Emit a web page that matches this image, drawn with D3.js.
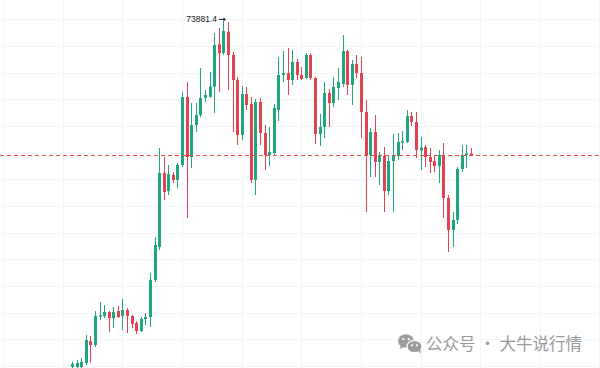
<!DOCTYPE html>
<html>
<head>
<meta charset="utf-8">
<script src="https://cdn.jsdelivr.net/npm/d3@7"></script>
<style>
  body { margin:0; background:#fff; overflow:hidden; }
</style>
</head>
<body>
<script>
// daily candles (USD)
var open = [47925,47925,47925,48225,49875,49575,51712,51750,52050,51600,52125,51750,52200,51750,51225,50625,51525,51675,54450,56925,
            62475,61125,62325,61950,63075,68175,63675,66075,66825,68122,68198,68948,72128,71475,73072,71325,69450,65325,68400,67650,
            61950,67800,65475,63825,63975,67200,69825,69975,69450,70800,69825,69600,71325,69600,65400,65925,68475,67725,68850,69150,
            71625,69075,70650,69975,67050,63825,65550,63300,63750,61125,63375,63750,64762,64800,66750,66300,64162,64425,63675,63375,
            63000,63825,60600,58200,58950,62775,63825,63938];
var close = [48150,48225,48300,49950,49575,51750,51825,52050,51600,52050,51675,52200,51750,51150,50625,51525,51675,54450,57075,62475,
             61050,62400,61950,63075,68175,63675,66075,66825,68100,68325,68962,72075,71452,73125,71325,69450,65325,68400,67575,61950,
             67800,65475,63825,64050,67350,69825,69975,69450,70800,69825,69525,71325,69600,65400,65925,68475,67725,68925,69300,71625,
             69075,70650,69975,67050,63825,65550,63300,63750,61125,63375,63750,64800,64875,66750,66300,64200,64388,63675,63300,63000,
             63825,60600,58200,58950,62775,63825,63938,63825];
var high = [48300,48450,48600,50325,50250,52125,52800,52575,52125,52425,52500,53025,52350,51825,51375,51675,51975,54975,57675,64350,
            63675,63075,62550,63225,68550,69300,67725,67725,70350,68700,70050,72975,73350,73881.4,73800,71550,69675,69000,68925,68175,
            68025,68100,66075,65925,67650,71175,71625,71850,71700,71025,70425,71475,71475,69675,66900,69300,68775,69675,70350,72825,
            71700,70950,71325,71175,67950,65850,66825,64050,64425,63825,65400,65475,65625,67200,67050,67050,65175,64575,64350,63825,
            64200,64725,60825,59550,62925,64575,64575,64350];
var low = [47775,47775,47775,48075,48225,49425,51450,51600,50550,50850,51600,50700,50475,50850,50400,50550,51075,50925,54300,56700,
           60450,60825,61725,61350,62925,59100,62850,65550,66675,67800,68100,66975,68550,71325,68700,65550,64575,64950,67200,61725,
           60825,64575,62700,63000,63825,66375,69300,68325,69075,69450,69450,69525,69450,64650,64500,65100,65925,67425,67950,68925,
           68325,67575,69600,65100,59550,62175,62175,61575,59550,60825,59550,63450,64200,64725,66000,63600,62700,62925,62475,62550,
           61725,59100,56550,56925,58650,62550,62850,63750];
var gridPrices = d3.range(48000, 76000, 2000);
var gridCandles = d3.range(-15, 120, 13);
var watermark = "公众号 · 大牛说行情";

var width = 600, height = 368;
var up = "#1fa67e", down = "#e2444f";

var x = d3.scaleLinear().domain([0, close.length - 1]).range([72, 471]);
var y = d3.scaleLinear().domain([47850, 75450]).range([height, 0]);

var svg = d3.select("body").append("svg")
  .attr("width", width)
  .attr("height", height);

// faint grid
svg.append("g").selectAll("line").data(gridPrices).enter().append("line")
  .attr("x1", 0).attr("x2", width)
  .attr("y1", function(d) { return Math.round(y(d)) + 0.5; })
  .attr("y2", function(d) { return Math.round(y(d)) + 0.5; })
  .attr("stroke", "#f2f4f8");
svg.append("g").selectAll("line").data(gridCandles).enter().append("line")
  .attr("y1", 0).attr("y2", height)
  .attr("x1", function(d) { return Math.round(x(d)) + 0.5; })
  .attr("x2", function(d) { return Math.round(x(d)) + 0.5; })
  .attr("stroke", "#f2f4f8");

var candles = svg.append("g").selectAll("g")
  .data(d3.range(close.length))
  .enter().append("g")
  .attr("fill", function(i) { return close[i] >= open[i] ? up : down; });

candles.append("rect")
  .attr("x", function(i) { return Math.round(x(i)); })
  .attr("width", 1)
  .attr("y", function(i) { return y(high[i]); })
  .attr("height", function(i) { return y(low[i]) - y(high[i]); });

candles.append("rect")
  .attr("x", function(i) { return Math.round(x(i)) - 1; })
  .attr("width", 3)
  .attr("y", function(i) { return y(Math.max(open[i], close[i])); })
  .attr("height", function(i) { return Math.max(1, Math.abs(y(open[i]) - y(close[i]))); });

// last price line
var last = close[close.length - 1];
svg.append("line")
  .attr("x1", 0).attr("x2", width)
  .attr("y1", Math.round(y(last)) + 0.5).attr("y2", Math.round(y(last)) + 0.5)
  .attr("stroke", "#d9534f")
  .attr("stroke-dasharray", "4,3");

// highest high marker
var hi = d3.maxIndex(high);
var hx = Math.round(x(hi)), hy = y(high[hi]);
svg.append("text")
  .attr("x", hx - 6).attr("y", hy + 1)
  .attr("text-anchor", "end")
  .attr("font-family", "Liberation Sans, Arial, sans-serif")
  .attr("font-size", 8.5)
  .attr("fill", "#131722")
  .text(d3.format(".1f")(high[hi]));
svg.append("line")
  .attr("x1", hx - 4).attr("x2", hx + 2)
  .attr("y1", hy - 1.5).attr("y2", hy - 1.5)
  .attr("stroke", "#131722");
svg.append("path")
  .attr("d", "M" + (hx + 3) + "," + (hy - 1.5) + "l-2.5,-2v4z")
  .attr("fill", "#131722");

// watermark
var wm = svg.append("g").attr("transform", "translate(398,334)");
wm.append("ellipse").attr("cx", 8).attr("cy", 7).attr("rx", 8).attr("ry", 6.8).attr("fill", "#9d9d9d");
wm.append("path").attr("d", "M3,11 L1.5,15 L7,12.5 Z").attr("fill", "#9d9d9d");
wm.append("ellipse").attr("cx", 16.5).attr("cy", 12.5).attr("rx", 7.5).attr("ry", 6.2)
  .attr("fill", "#9d9d9d").attr("stroke", "#fff").attr("stroke-width", 1.2);
wm.append("path").attr("d", "M20,17 L23,20 L22,15.5 Z").attr("fill", "#9d9d9d");
[[5.3, 5.2], [10.7, 5.2], [14, 11.3], [19, 11.3]].forEach(function(p) {
  wm.append("circle").attr("cx", p[0]).attr("cy", p[1]).attr("r", 1.1).attr("fill", "#fff");
});
svg.append("text")
  .attr("x", 426).attr("y", 350)
  .attr("font-family", "Noto Sans CJK SC, sans-serif")
  .attr("font-size", 16.5)
  .attr("fill", "#9a9a9a")
  .text(watermark);
</script>
</body>
</html>
